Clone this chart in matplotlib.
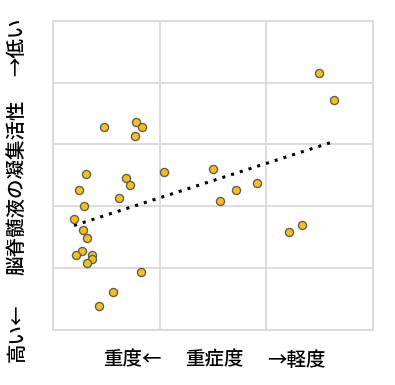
import numpy as np
import matplotlib.pyplot as plt

plt.rcParams['font.family'] = ['Noto Sans CJK JP', 'DejaVu Sans']

# severity (x) vs CSF aggregation activity (y)
severity = [2.49, 2.63, 0.48, 0.78, 0.84, 0.77, 0.31, 1.04, 1.50, 0.69,
            0.72, 0.25, 1.72, 1.91, 0.62, 1.57, 0.29, 0.20, 0.28, 0.32,
            2.21, 2.33, 0.27, 0.22, 0.37, 0.37, 0.32, 0.83, 0.56, 0.43]
activity = [4.15, 3.72, 3.28, 3.37, 3.28, 3.14, 2.52, 2.55, 2.60, 2.45,
            2.35, 2.27, 2.27, 2.38, 2.14, 2.09, 2.00, 1.80, 1.61, 1.48,
            1.59, 1.69, 1.27, 1.21, 1.21, 1.15, 1.08, 0.94, 0.61, 0.38]

x_ticks = [0, 1, 2, 3]
y_ticks = [0, 1, 2, 3, 4, 5]

x_left, x_mid, x_right = "重度←", "重症度", "→軽度"
y_bottom, y_mid, y_top = "高い←", "脳脊髄液の凝集活性", "→低い"

fig = plt.figure(figsize=(3.95, 3.85), dpi=100)
ax = fig.add_axes([0.1334, 0.1429, 0.8116, 0.8033])

ax.set_xlim(0, 3)
ax.set_ylim(0, 5)
ax.set_xticks(x_ticks)
ax.set_yticks(y_ticks)
ax.tick_params(length=0, labelbottom=False, labelleft=False)
ax.grid(True, color='#d9d9d9', linewidth=1.3)
ax.set_axisbelow(True)
for s in ax.spines.values():
    s.set_color('#d9d9d9')
    s.set_linewidth(1.3)

# linear trend line
k, b = np.polyfit(severity, activity, 1)
xs = np.linspace(min(severity), max(severity), 50)
ax.plot(xs, k * xs + b, linestyle=(0, (1, 2)), color='black', linewidth=2.2,
        zorder=2)

ax.scatter(severity, activity, s=34, color='#ffc000', edgecolor='#556070',
           linewidth=1.0, zorder=3)

fs = 14
fw = 'medium'
fig.text(103 / 395, 1 - 360 / 385, x_left, ha='left', va='center',
         fontsize=fs, fontweight=fw)
fig.text(214 / 395, 1 - 360 / 385, x_mid, ha='center', va='center',
         fontsize=fs, fontweight=fw)
fig.text(326 / 395, 1 - 360 / 385, x_right, ha='right', va='center',
         fontsize=fs, fontweight=fw)

fig.text(17 / 395, 1 - 362 / 385, y_bottom, rotation=90, ha='center',
         va='bottom', fontsize=fs, fontweight=fw)
fig.text(17 / 395, 1 - 187 / 385, y_mid, rotation=90, ha='center',
         va='center', fontsize=fs, fontweight=fw)
fig.text(17 / 395, 1 - 18 / 385, y_top, rotation=90, ha='center',
         va='top', fontsize=fs, fontweight=fw)

fig.savefig('out.png', dpi=100)
